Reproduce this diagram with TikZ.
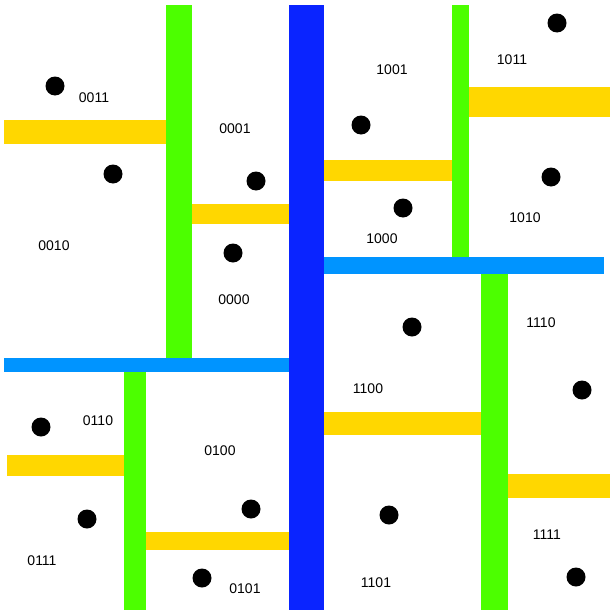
\documentclass[tikz,border=0pt]{standalone}
\usepackage{fontspec}
\setmainfont{Liberation Sans}
\usepackage{tikz}
\definecolor{rootCol}{HTML}{0A24FF}
\definecolor{levelOne}{HTML}{0094FF}
\definecolor{levelTwo}{HTML}{4CFF00}
\definecolor{levelThree}{HTML}{FFD700}
\tikzset{
  cut/.style={fill=#1, draw=none},
  pointDot/.style={circle, fill=black, inner sep=0pt, minimum size=19pt},
  cellLabel/.style={font=\fontsize{14}{16}\selectfont, inner sep=0pt},
}

\begin{document}
\begin{tikzpicture}[x=1pt, y=-1pt]
\useasboundingbox (0,0) rectangle (610,613);

% Root split
\fill[cut=rootCol] (289,5) rectangle (324,610);

% Second level splits
\fill[cut=levelOne] (4,358) rectangle (289,372);
\fill[cut=levelOne] (324,257) rectangle (604,274);

% Third level splits
\fill[cut=levelTwo] (166,5) rectangle (192,358);
\fill[cut=levelTwo] (124,372) rectangle (146,610);
\fill[cut=levelTwo] (452,5) rectangle (469,257);
\fill[cut=levelTwo] (481,274) rectangle (508,610);

% Fourth level splits
\foreach \xa/\ya/\xb/\yb in {4/120/166/144, 192/204/289/224, 7/455/124/476, 146/532/289/550,
  324/160/452/181, 469/87/610/117, 324/412/481/435, 508/474/610/498}
  \fill[cut=levelThree] (\xa,\ya) rectangle (\xb,\yb);

% Points
\foreach \name/\px/\py in {a/55/86, b/113/174, c/256/181, d/233/253,
  e/41/427, f/87/519, g/251/509, h/202/578,
  i/557/23, j/361/125, k/403/208, l/551/177,
  m/412/327, n/582/390, o/389/515, p/576/577}
  \node[pointDot] (pt\name) at (\px,\py) {};

% Cell codes
\foreach \code/\px/\py in {0011/94/98, 0001/235/129, 0010/54/246, 0000/234/300,
  0110/98/421, 0100/220/451, 0111/42/561, 0101/245/589,
  1001/392/70, 1011/512/60, 1010/525/218, 1000/382/239,
  1110/541/323, 1100/368/389, 1111/547/535, 1101/376/583}
  \node[cellLabel] (cell\code) at (\px,\py) {\code};

\end{tikzpicture}
\end{document}
